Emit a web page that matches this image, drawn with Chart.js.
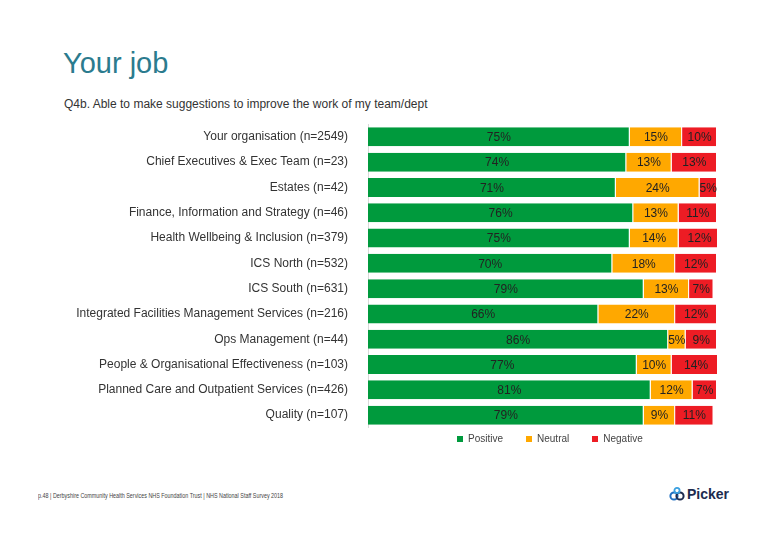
<!DOCTYPE html>
<html>
<head>
<meta charset="utf-8">
<script src="https://cdn.jsdelivr.net/npm/chart.js@4"></script>
<style>
  body { margin: 0; background: #fff; font-family: "Liberation Sans", Arial, sans-serif; }
  #page { position: relative; width: 780px; height: 540px; overflow: hidden; }
  .title { position: absolute; left: 63px; top: 47px; font-size: 29px; color: #2b7b8e; }
  .subtitle { position: absolute; left: 64px; top: 97px; font-size: 12px; color: #333; }
  .chart-box { position: absolute; left: 0; top: 97px; width: 780px; height: 358px; }
  .legend { position: absolute; top: 433px; left: 457px; display: flex; font-size: 10px; color: #444; }
  .legend span { display: flex; align-items: center; margin-right: 23px; }
  .legend i { display: inline-block; width: 6px; height: 6px; margin-right: 5px; }
  .footer { position: absolute; left: 38px; top: 492px; font-size: 7px; color: #444; white-space: nowrap;
            transform: scaleX(0.77); transform-origin: left top; font-family: "Liberation Sans Narrow", "Liberation Sans", sans-serif; }
  .logo { position: absolute; left: 669px; top: 486px; display: flex; align-items: center; font-weight: bold; font-size: 14px; color: #1d2b4f; }
  .logo svg { margin-right: 2px; }
</style>
</head>
<body>
<div id="page">
  <div class="title">Your job</div>
  <div class="subtitle">Q4b. Able to make suggestions to improve the work of my team/dept</div>
  <div class="chart-box"><canvas id="chart"></canvas></div>
  <div class="legend" id="legend"></div>
  <div class="footer">p.48 | Derbyshire Community Health Services NHS Foundation Trust | NHS National Staff Survey 2018</div>
  <div class="logo">
    <svg width="16" height="14" viewBox="0 0 16 14">
      <circle cx="5" cy="9" r="3.6" fill="none" stroke="#1f6fc0" stroke-width="2"/>
      <circle cx="11" cy="9" r="3.6" fill="none" stroke="#1d2b4f" stroke-width="2"/>
      <circle cx="8" cy="3.5" r="2.6" fill="none" stroke="#3aa0e0" stroke-width="1.8"/>
    </svg>Picker
  </div>
</div>
<script>
// 分组 & 数值
const groups = [
  'Your organisation (n=2549)',
  'Chief Executives & Exec Team (n=23)',
  'Estates (n=42)',
  'Finance, Information and Strategy (n=46)',
  'Health Wellbeing & Inclusion (n=379)',
  'ICS North (n=532)',
  'ICS South (n=631)',
  'Integrated Facilities Management Services (n=216)',
  'Ops Management (n=44)',
  'People & Organisational Effectiveness (n=103)',
  'Planned Care and Outpatient Services (n=426)',
  'Quality (n=107)'
];
const positive = [75, 74, 71, 76, 75, 70, 79, 66, 86, 77, 81, 79];
const neutral  = [15, 13, 24, 13, 14, 18, 13, 22, 5, 10, 12, 9];
const negative = [10, 13, 5, 11, 12, 12, 7, 12, 9, 14, 7, 11];

// 段内居中百分比标签
const segmentLabels = {
  id: 'segmentLabels',
  afterDatasetsDraw(chart) {
    const ctx = chart.ctx;
    ctx.save();
    ctx.font = '12px "Liberation Sans", Arial, sans-serif';
    ctx.fillStyle = '#222';
    ctx.textAlign = 'center';
    ctx.textBaseline = 'middle';
    chart.data.datasets.forEach((ds, i) => {
      chart.getDatasetMeta(i).data.forEach((bar, j) => {
        const v = ds.data[j];
        if (!v) return;
        ctx.fillText(v + '%', (bar.x + bar.base) / 2, bar.y + 1);
      });
    });
    ctx.restore();
  }
};

const ctx = document.getElementById('chart').getContext('2d');
const chart = new Chart(ctx, {
  type: 'bar',
  data: {
    labels: groups,
    datasets: [
      { label: 'Positive', data: positive, backgroundColor: '#009a3d' },
      { label: 'Neutral', data: neutral, backgroundColor: '#ffa800' },
      { label: 'Negative', data: negative, backgroundColor: '#ed1c24' }
    ].map(d => Object.assign(d, {
      borderColor: '#ffffff',
      borderWidth: { right: 1 },
      borderSkipped: false,
      barPercentage: 0.75,
      categoryPercentage: 1
    }))
  },
  options: {
    indexAxis: 'y',
    responsive: true,
    maintainAspectRatio: false,
    animation: false,
    layout: { padding: { left: 0, right: 63, top: 7, bottom: 2 } },
    plugins: {
      tooltip: { enabled: false },
      legend: { display: false }
    },
    scales: {
      x: { stacked: true, min: 0, max: 100, display: false },
      y: {
        stacked: true,
        grid: { display: false, drawTicks: false },
        border: { display: true, color: '#d9d9d9' },
        ticks: {
          padding: 20, color: '#333',
          font: { size: 12, family: '"Liberation Sans", Arial, sans-serif' }
        },
        afterFit(scale) { scale.width = 368; }
      }
    }
  },
  plugins: [segmentLabels]
});

// 图例
document.getElementById('legend').innerHTML = chart.data.datasets.map(d =>
  `<span><i style="background:${d.backgroundColor}"></i>${d.label}</span>`
).join('');
</script>
</body>
</html>
